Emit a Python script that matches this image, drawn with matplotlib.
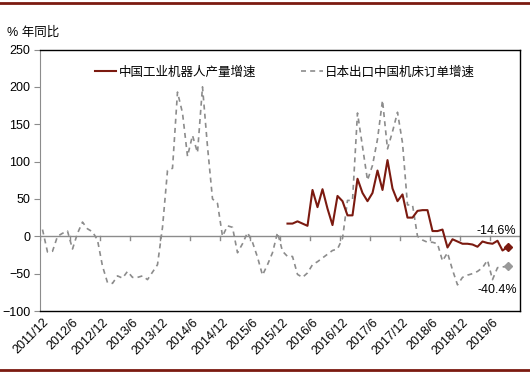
import numpy as np
import matplotlib
matplotlib.use("Agg")
import matplotlib.pyplot as plt

plt.rcParams['font.family'] = ['Liberation Sans', 'Noto Sans CJK SC', 'DejaVu Sans']

# monthly data, 2011/12 .. 2019/9
tick_labels = ['2011/12', '2012/6', '2012/12', '2013/6', '2013/12', '2014/6',
               '2014/12', '2015/6', '2015/12', '2016/6', '2016/12', '2017/6',
               '2017/12', '2018/6', '2018/12', '2019/6']

japan_orders = [9, -21, -20, 0, 4, 7, -17, 4, 19, 10, 6, -5,
                -40, -62, -63, -53, -56, -47, -55, -55, -53, -58, -48, -38,
                12, 88, 91, 193, 165, 107, 135, 112, 200, 120, 50, 44,
                0, 14, 12, -22, -10, 5, -8, -28, -52, -38, -22, 5,
                -20, -27, -27, -51, -55, -49, -38, -34, -29, -24, -19, -17,
                -3, 48, 48, 165, 120, 75, 95, 130, 182, 117, 140, 166,
                125, 42, 42, 0, -5, -8, -8, -10, -33, -22, -45, -65,
                -55, -52, -50, -47, -42, -32, -58, -42, -41, -40.4]

robot_start = 49
robot_output = [17, 17, 20, 17, 14, 62, 39, 63, 37, 15, 54,
                47, 28, 28, 77, 58, 47, 58, 88, 62, 102, 64, 47,
                56, 25, 25, 34, 35, 35, 7, 7, 9, -15, -4, -7,
                -10, -10, -11, -14, -7, -9, -10, -6, -19, -14.6]

RED = '#7b1a10'
GREY = '#8c8c8c'

x_jp = np.arange(len(japan_orders))
x_rb = np.arange(robot_start, robot_start + len(robot_output))

fig = plt.figure(figsize=(5.3, 3.73), dpi=100)
ax = fig.add_axes([40/530, 1 - 311/373, 480/530, 261.5/373])

ax.axhline(0, color='#8c8c8c', lw=1, zorder=1)
# category tick marks on the zero line
for b in np.arange(-0.5, 96, 6):
    ax.plot([b, b], [0, -5], color='#8c8c8c', lw=1, zorder=1)

ax.plot(x_jp, japan_orders, color=GREY, lw=1.2, dashes=(3, 2.5),
        label='日本出口中国机床订单增速', zorder=2)
ax.plot(x_rb, robot_output, color=RED, lw=1.5,
        label='中国工业机器人产量增速', zorder=3)

ax.plot(x_jp[-1], japan_orders[-1], 'D', color='#999999', ms=4.5, zorder=4)
ax.plot(x_rb[-1], robot_output[-1], 'D', color=RED, ms=4.5, zorder=4)

ax.annotate(f'{robot_output[-1]}%', (x_rb[-1], robot_output[-1]),
            xytext=(6, 12), textcoords='offset points', ha='right', va='center',
            fontsize=9)
ax.annotate(f'{japan_orders[-1]}%', (x_jp[-1], japan_orders[-1]),
            xytext=(7, -17), textcoords='offset points', ha='right', va='center',
            fontsize=9)

ax.set_xlim(-0.5, 95.5)
ax.set_ylim(-100, 250)
ax.set_yticks(np.arange(-100, 251, 50))
ax.tick_params(axis='y', length=4, color='#8c8c8c', labelsize=9, pad=3)
ax.set_xticks(np.arange(0, 91, 6))
ax.set_xticklabels(tick_labels, rotation=45, ha='right', rotation_mode='anchor',
                   fontsize=9)
ax.tick_params(axis='x', length=0, pad=4)

for s in ['top', 'right', 'bottom']:
    ax.spines[s].set_color('black')
    ax.spines[s].set_linewidth(1)
ax.spines['left'].set_color('#8c8c8c')

h, l = ax.get_legend_handles_labels()
ax.legend(h[::-1], l[::-1], ncol=2, frameon=False, loc='center',
          bbox_to_anchor=((285 - 40) / 480, (311 - 72) / 261.5),
          prop={'family': ['Noto Sans CJK SC'], 'size': 9},
          handlelength=1.7, handletextpad=0.2, columnspacing=3.6)

fig.text(7/530, 1 - 33/373, '% 年同比', fontsize=9, va='center')

# dark red frame lines at top and bottom of the picture
fig.add_artist(plt.Line2D([0, 1], [1 - 3/373, 1 - 3/373], color=RED, lw=2))
fig.add_artist(plt.Line2D([0, 1], [1 - 370/373, 1 - 370/373], color=RED, lw=2))

fig.savefig('out.png', dpi=100)
